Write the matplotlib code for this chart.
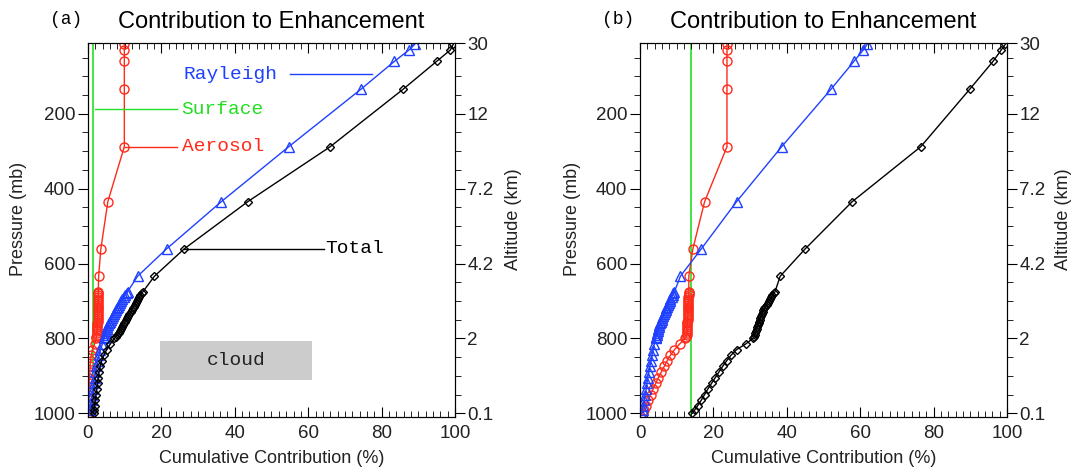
import numpy as np
import matplotlib.pyplot as plt
from matplotlib.patches import Rectangle
from matplotlib.ticker import MultipleLocator

# pressure levels (mb), top of model down to the surface
pres = [15, 30, 60, 135, 288, 435, 561, 634,
        675, 680, 685, 690, 695, 700, 705, 710, 715, 720, 725, 730, 735, 740, 745, 750, 755,
        760, 765, 770, 775, 780, 785, 790, 795, 800,
        815, 830, 845, 860, 875, 890, 905, 920, 935, 950, 965, 980, 990, 1000]

# cumulative contribution (%) - case (a)
total_a = [99.5, 98.7, 95.0, 85.8, 66.0, 43.5, 26.2, 18.1,
           15.0, 14.6, 14.3, 13.9, 13.6, 13.3, 13.0, 12.7, 12.5, 12.2, 11.9, 11.6, 11.3, 11.0, 10.7, 10.4, 10.1,
           9.9, 9.6, 9.3, 9.0, 8.7, 8.4, 8.0, 7.6, 7.2,
           6.1, 5.1, 4.3, 3.7, 3.3, 3.0, 2.8, 2.6, 2.4, 2.2, 2.0, 1.8, 1.7, 1.5]
rayleigh_a = [89.0, 87.4, 83.5, 74.3, 54.7, 36.3, 21.4, 13.5,
              10.8, 10.5, 10.1, 9.8, 9.4, 9.1, 8.7, 8.4, 8.1, 7.8, 7.5, 7.3, 7.0, 6.7, 6.5, 6.2, 6.0,
              5.7, 5.5, 5.3, 5.2, 5.0, 4.8, 4.7, 4.5, 4.4,
              3.9, 3.4, 3.0, 2.6, 2.3, 2.0, 1.8, 1.6, 1.4, 1.2, 1.0, 0.8, 0.6, 0.4]
aerosol_a = [9.9, 9.9, 9.9, 9.9, 9.9, 5.4, 3.5, 2.9,
             2.8, 2.8, 2.8, 2.8, 2.7, 2.7, 2.7, 2.7, 2.7, 2.7, 2.7, 2.6, 2.6, 2.6, 2.6, 2.6, 2.6,
             2.5, 2.5, 2.5, 2.5, 2.4, 2.4, 2.4, 2.3, 2.2,
             1.8, 1.2, 0.9, 0.7, 0.6, 0.5, 0.4, 0.3, 0.3, 0.2, 0.2, 0.1, 0.1, 0.0]
surface_a = 1.3

# cumulative contribution (%) - case (b)
total_b = [99.5, 98.4, 96.2, 89.8, 76.5, 57.8, 45.0, 38.2,
           36.8, 36.5, 36.1, 35.8, 35.5, 35.1, 34.8, 34.5, 34.1, 33.8, 33.6, 33.4, 33.2, 33.0, 32.8, 32.6, 32.4,
           32.3, 32.1, 31.9, 31.8, 31.6, 31.4, 31.3, 31.1, 30.8,
           28.8, 26.3, 24.8, 23.6, 22.5, 21.5, 20.5, 19.5, 18.5, 17.6, 16.7, 15.7, 15.0, 14.3]
rayleigh_b = [61.9, 60.8, 58.3, 52.0, 38.6, 26.3, 16.7, 11.0,
              9.4, 9.1, 8.9, 8.6, 8.3, 8.1, 7.8, 7.6, 7.4, 7.2, 7.0, 6.7, 6.5, 6.3, 6.1, 5.9, 5.7,
              5.5, 5.3, 5.2, 5.0, 4.9, 4.7, 4.6, 4.4, 4.3,
              3.9, 3.6, 3.3, 3.0, 2.7, 2.4, 2.1, 1.9, 1.7, 1.4, 1.2, 0.9, 0.7, 0.4]
aerosol_b = [23.7, 23.7, 23.7, 23.7, 23.7, 17.6, 14.4, 13.3,
             13.3, 13.3, 13.3, 13.2, 13.2, 13.2, 13.2, 13.1, 13.1, 13.1, 13.1, 13.0, 13.0, 13.0, 13.0, 13.0, 12.9,
             12.9, 12.9, 12.9, 12.8, 12.8, 12.8, 12.7, 12.6, 12.3,
             10.8, 9.4, 8.3, 7.4, 6.6, 5.8, 5.0, 4.3, 3.6, 2.9, 2.2, 1.6, 1.1, 0.6]
surface_b = 14.0

# right-hand altitude axis
alt_pres = [12, 200, 400, 600, 800, 1000]
alt_labels = ['30', '12', '7.2', '4.2', '2', '0.1']

# cloud layer shown in panel (a)
cloud_x = (19.5, 61.0)
cloud_p = (806, 910)

SANS = 'Liberation Sans'
MONO = 'Liberation Mono'
RED = '#ff2a1a'
BLUE = '#2040ff'
GREEN = '#22e022'
TXT = '#222222'

fig = plt.figure(figsize=(10.75, 4.72), dpi=100)
W, H = 1075, 472


def panel(left, tag, total, rayleigh, aerosol, surface, ylab_x, alt_x):
    ax = fig.add_axes([left / W, 1 - 417 / H, 367 / W, 374 / H])
    ax.axvline(surface, color=GREEN, lw=1.2, zorder=1)
    ax.plot(aerosol, pres, color=RED, lw=1, marker='o', ms=6.5, mfc='none', mew=1, zorder=2)
    ax.plot(rayleigh, pres, color=BLUE, lw=1, marker='^', ms=6.5, mfc='none', mew=1, zorder=3)
    ax.plot(total, pres, color='black', lw=1, marker='D', ms=4, mfc='none', mew=1, zorder=4)

    ax.set_xlim(0, 100)
    ax.set_ylim(1010, 11)
    ax.xaxis.set_major_locator(MultipleLocator(20))
    ax.xaxis.set_minor_locator(MultipleLocator(2))
    ax.set_yticks([200, 400, 600, 800, 1000])
    ax.yaxis.set_minor_locator(MultipleLocator(50))
    ax.tick_params(axis='x', which='both', direction='in', top=True, bottom=True,
                   labelsize=13.5, labelcolor=TXT, pad=6)
    ax.tick_params(axis='x', which='major', length=7)
    ax.tick_params(axis='x', which='minor', length=4)
    ax.tick_params(axis='y', which='both', direction='out', labelsize=13.5, labelcolor=TXT, pad=2)
    ax.tick_params(axis='y', which='major', length=7)
    ax.tick_params(axis='y', which='minor', length=4)
    for lab in ax.get_xticklabels() + ax.get_yticklabels():
        lab.set_fontfamily(SANS)

    ax2 = ax.twinx()
    ax2.set_ylim(ax.get_ylim())
    ax2.set_yticks(alt_pres)
    ax2.set_yticklabels(alt_labels, fontfamily=SANS)
    ax2.yaxis.set_minor_locator(MultipleLocator(50))
    ax2.tick_params(axis='y', which='both', direction='out', labelsize=13.5, labelcolor=TXT, pad=2)
    ax2.tick_params(axis='y', which='major', length=7)
    ax2.tick_params(axis='y', which='minor', length=4)

    lab_kw = dict(transform=ax.transAxes, ha='center', va='center',
                  fontfamily=SANS, fontsize=13, color=TXT)
    ax.text(0.5, -0.112, 'Cumulative Contribution (%)', **lab_kw)
    ax.text(ylab_x, 0.53, 'Pressure (mb)', rotation=90, **lab_kw)
    ax.text(alt_x, 0.53, 'Altitude (km)', rotation=90, **lab_kw)

    ax.text(0.5, 1.056, 'Contribution to Enhancement', transform=ax.transAxes,
            ha='center', va='center', fontfamily=SANS, fontsize=17)
    ax.text(-0.06, 1.062, '(' + tag + ')', transform=ax.transAxes,
            ha='center', va='center', fontfamily=MONO, fontsize=13)
    return ax


axa = panel(88, 'a', total_a, rayleigh_a, aerosol_a, surface_a, -0.19, 1.16)
axb = panel(640, 'b', total_b, rayleigh_b, aerosol_b, surface_b, -0.185, 1.155)

# curve labels with leader lines in panel (a)
axa.plot([55, 77.5], [94, 94], color=BLUE, lw=1)
axa.text(26, 94, 'Rayleigh', color=BLUE, fontfamily=MONO, fontsize=14, va='center')
axa.plot([1.8, 24.2], [188, 188], color=GREEN, lw=1)
axa.text(25.5, 188, 'Surface', color=GREEN, fontfamily=MONO, fontsize=14, va='center')
axa.plot([aerosol_a[4], 24.2], [pres[4], pres[4]], color=RED, lw=1)
axa.text(25.5, pres[4], 'Aerosol', color=RED, fontfamily=MONO, fontsize=14, va='center')
axa.plot([total_a[6], 64.2], [pres[6], pres[6]], color='black', lw=1)
axa.text(64.6, pres[6], 'Total', color='black', fontfamily=MONO, fontsize=14, va='center')

axa.add_patch(Rectangle((cloud_x[0], cloud_p[0]), cloud_x[1] - cloud_x[0], cloud_p[1] - cloud_p[0],
                        facecolor='#cccccc', edgecolor='none', zorder=0.5))
axa.text(sum(cloud_x) / 2, sum(cloud_p) / 2, 'cloud', fontfamily=MONO, fontsize=14,
         ha='center', va='center', color=TXT)

fig.savefig('out.png', dpi=100)
